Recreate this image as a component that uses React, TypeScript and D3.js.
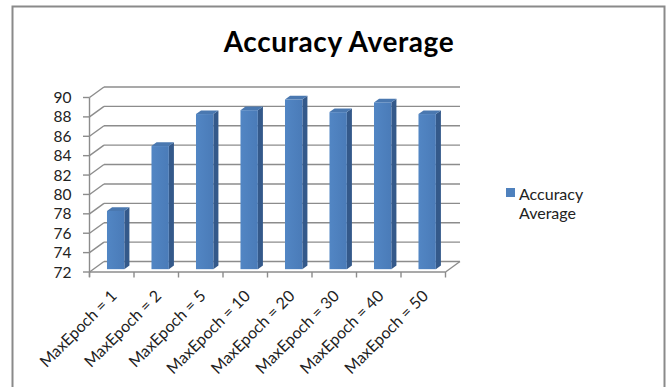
import React from "react";
import * as d3 from "d3";

const categories = [
  "MaxEpoch = 1",
  "MaxEpoch = 2",
  "MaxEpoch = 5",
  "MaxEpoch = 10",
  "MaxEpoch = 20",
  "MaxEpoch = 30",
  "MaxEpoch = 40",
  "MaxEpoch = 50",
];
const accuracyAverage = [78, 84.7, 88, 88.4, 89.5, 88.2, 89.2, 88];
const yTicks = [72, 74, 76, 78, 80, 82, 84, 86, 88, 90];
const seriesName = "Accuracy Average";
const titleText = "Accuracy Average";

const W = 667;
const H = 387;
const FONT = "Lato, 'Open Sans', sans-serif";

export default function App() {
  const x0 = 89.5;
  const x1 = 445.5;
  const dx = 14.5;
  const dy = -10.5;
  const x = d3.scaleBand<string>().domain(categories).range([x0, x1]);
  const y = d3.scaleLinear().domain([72, 90]).range([272, 97.5]);

  const tFront = 0.27;
  const tBack = 0.62;
  const barW = x.bandwidth() * 0.39;

  const grid = "#8c8c8c";

  return (
    <svg
      width={W}
      height={H}
      style={{ position: "absolute", left: 0, top: 0, background: "#fff" }}
      fontFamily={FONT}
    >
      <defs>
        <linearGradient id="barFront" x1="0" x2="1" y1="0" y2="0">
          <stop offset="0" stopColor="#5286c4" />
          <stop offset="1" stopColor="#4a7bb8" />
        </linearGradient>
      </defs>
      <rect x={12.5} y={6.5} width={652} height={400} fill="#fff" stroke="#8a8a8a" strokeWidth={2} />

      <text x={339} y={52} textAnchor="middle" fontSize={28} letterSpacing={0.6} fontWeight="bold" fill="#000" fontFamily="Lato, sans-serif">
        {titleText}
      </text>

      {/* back wall gridlines and left wall slants */}
      {yTicks.map((v) => (
        <g key={v}>
          <line x1={x0 + dx} x2={x1 + dx} y1={y(v) + dy} y2={y(v) + dy} stroke={grid} strokeWidth={1.4} />
          <line x1={x0} x2={x0 + dx} y1={y(v)} y2={y(v) + dy} stroke={grid} strokeWidth={1.4} />
          <line x1={x0 - 6.5} x2={x0} y1={y(v)} y2={y(v)} stroke={grid} strokeWidth={1.4} />
          <text x={71.5} y={y(v) + 5.5} textAnchor="end" fontSize={15.5} fill="#222">
            {v}
          </text>
        </g>
      ))}
      {/* left vertical axis */}
      <line x1={x0} x2={x0} y1={y(90)} y2={y(72) + 5} stroke={grid} strokeWidth={1.4} />
      {/* floor front and right edges */}
      <line x1={x0} x2={x1} y1={y(72)} y2={y(72)} stroke={grid} strokeWidth={1.4} />
      <line x1={x1} x2={x1 + dx} y1={y(72)} y2={y(72) + dy} stroke={grid} strokeWidth={1.4} />
      {/* category ticks */}
      {categories.map((c, i) => (
        <line key={c} x1={x0 + i * x.step()} x2={x0 + i * x.step()} y1={y(72)} y2={y(72) + 5.5} stroke={grid} strokeWidth={1.4} />
      ))}
      <line x1={x1} x2={x1} y1={y(72)} y2={y(72) + 5.5} stroke={grid} strokeWidth={1.4} />

      {/* bars */}
      {categories.map((c, i) => {
        const v = accuracyAverage[i];
        const cx = (x(c) as number) + x.bandwidth() / 2;
        const fx = cx - barW / 2 + dx * tFront;
        const fyTop = y(v) + dy * tFront;
        const fyBot = y(72) + dy * tFront;
        const ddx = dx * (tBack - tFront);
        const ddy = dy * (tBack - tFront);
        const side = `M${fx + barW},${fyTop} L${fx + barW + ddx},${fyTop + ddy} L${fx + barW + ddx},${fyBot + ddy} L${fx + barW},${fyBot} Z`;
        const top = `M${fx},${fyTop} L${fx + ddx},${fyTop + ddy} L${fx + barW + ddx},${fyTop + ddy} L${fx + barW},${fyTop} Z`;
        return (
          <g key={c}>
            <path d={side} fill="#34598a" />
            <path d={top} fill="#4a78b0" />
            <rect x={fx} y={fyTop} width={barW} height={fyBot - fyTop} fill="url(#barFront)" />
          </g>
        );
      })}

      {/* category labels */}
      {categories.map((c) => {
        const cx = (x(c) as number) + x.bandwidth() / 2;
        const ax = cx + 6;
        const ay = 297;
        return (
          <text
            key={c}
            x={ax}
            y={ay}
            textAnchor="end"
            fontSize={16}
            fill="#222"
            transform={`rotate(-45, ${ax}, ${ay})`}
          >
            {c}
          </text>
        );
      })}

      {/* legend */}
      <rect x={506} y={188} width={9} height={9} fill="#4f81bd" />
      <text x={519} y={199.5} fontSize={16} fill="#222">
        {seriesName.split(" ")[0]}
      </text>
      <text x={519} y={219} fontSize={16} fill="#222">
        {seriesName.split(" ")[1]}
      </text>
    </svg>
  );
}
